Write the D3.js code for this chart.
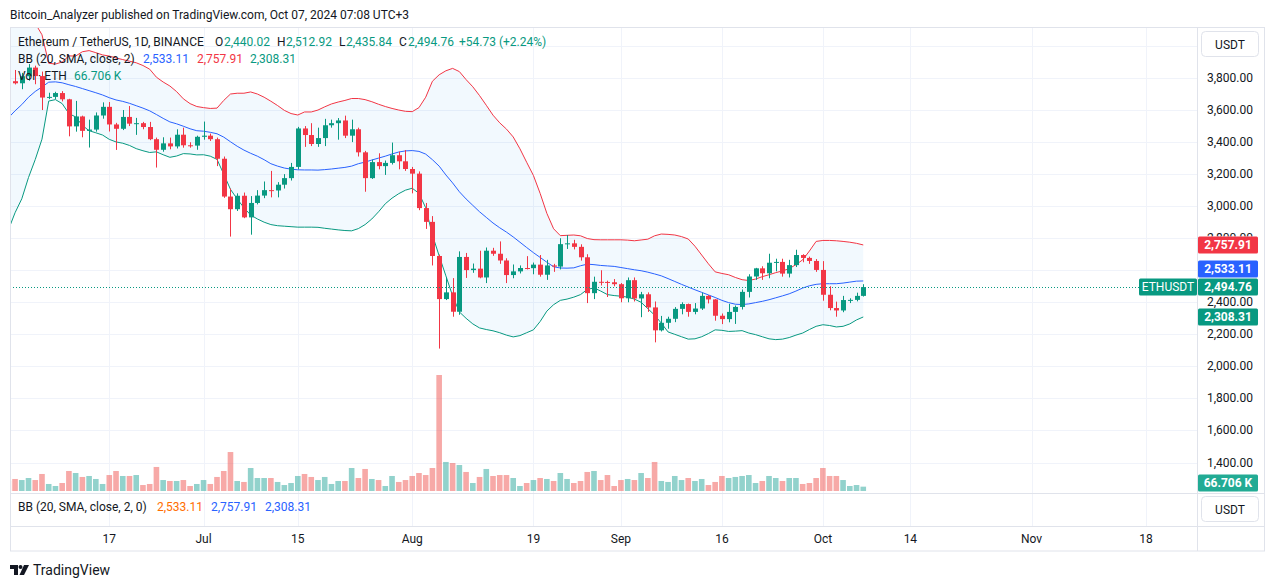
<!DOCTYPE html>
<html><head><meta charset="utf-8">
<script src="https://cdn.jsdelivr.net/npm/d3@7"></script>
<style>
body{margin:0;background:#fff;}
svg text{font-family:Roboto,"Liberation Sans",sans-serif;}
</style>
</head><body>
<svg id="c" width="1273" height="588"></svg>
<script>
// ---------------- DATA (daily, 2024-06-02 .. 2024-10-07) ----------------
const firstDay = "2024-06-02";
const opens = [3815,3780,3767,3811,3865,3812,3678,3682,3706,3667,3498,3560,3470,3478,3566,3620,3510,3483,3557,3515,3518,3494,3418,3352,3392,3373,3446,3380,3378,
3433,3440,3418,3296,3060,2981,3065,2930,3020,3066,3100,3098,3134,3175,3245,3485,3444,3388,3425,3505,3518,3535,3440,3480,3336,3175,3275,3250,3270,3318,3280,
3232,3203,2988,2902,2689,2420,2462,2341,2683,2601,2610,2555,2722,2703,2661,2570,2593,2614,2613,2635,2572,2630,2623,2763,2768,2746,2681,2457,2528,2527,2525,
2513,2425,2538,2424,2450,2368,2225,2272,2297,2359,2389,2340,2361,2440,2418,2316,2295,2340,2371,2465,2561,2612,2581,2647,2652,2579,2632,2695,2677,2658,
2602,2447,2364,2349,2414,2415,2440.02];
const highs = [3830,3850,3832,3887,3877,3840,3708,3714,3718,3670,3657,3565,3540,3585,3648,3650,3520,3600,3625,3551,3526,3526,3428,3430,3428,3480,3490,3399,3440,
3528,3453,3428,3310,3110,3080,3085,3063,3100,3154,3220,3150,3200,3270,3495,3500,3518,3490,3545,3540,3550,3565,3540,3490,3345,3290,3330,3285,3397,3340,3350,
3245,3217,3020,2938,2698,2555,2551,2718,2708,2642,2722,2742,2740,2780,2675,2636,2630,2688,2648,2695,2665,2640,2800,2820,2790,2762,2700,2560,2600,2535,2545,
2520,2555,2555,2465,2462,2405,2315,2310,2370,2400,2392,2395,2460,2445,2420,2330,2390,2380,2480,2575,2615,2625,2703,2672,2672,2665,2728,2700,2685,2670,
2657,2500,2404,2440,2425,2460,2512.92];
const lows = [3752,3760,3730,3783,3761,3600,3668,3668,3654,3436,3465,3430,3366,3465,3546,3466,3351,3475,3500,3445,3480,3412,3241,3340,3355,3360,3365,3365,3352,
3415,3407,3250,3052,2810,2970,2925,2822,3011,3050,3055,3055,3110,3160,3230,3370,3375,3370,3375,3490,3415,3425,3400,3310,3090,3170,3230,3195,3260,3230,3220,
3080,2975,2858,2630,2111,2414,2310,2322,2552,2584,2550,2520,2690,2640,2520,2550,2580,2605,2575,2560,2540,2590,2605,2733,2730,2660,2395,2420,2505,2433,2500,
2400,2400,2405,2307,2340,2150,2218,2235,2276,2325,2310,2325,2352,2393,2285,2264,2275,2265,2355,2430,2540,2540,2550,2593,2560,2555,2620,2650,2640,2590,
2410,2350,2310,2338,2395,2406,2435.84];
const closes = [3780,3767,3811,3865,3812,3678,3682,3706,3667,3498,3560,3470,3478,3566,3620,3510,3483,3557,3515,3518,3494,3418,3352,3392,3373,3446,3380,3378,3433,
3440,3418,3296,3060,2981,3065,2930,3020,3066,3100,3098,3134,3175,3245,3485,3444,3388,3425,3505,3518,3535,3440,3480,3336,3175,3275,3250,3270,3318,3280,3232,
3203,2988,2902,2689,2420,2462,2341,2683,2601,2610,2555,2722,2703,2661,2570,2593,2614,2613,2635,2572,2630,2623,2763,2768,2746,2681,2457,2528,2527,2525,2513,
2425,2538,2424,2450,2368,2225,2272,2297,2359,2389,2340,2361,2440,2418,2316,2295,2340,2371,2465,2561,2612,2581,2647,2652,2579,2632,2695,2677,2658,2602,
2447,2364,2349,2414,2415,2440.02,2494.76];
// volume, thousands of ETH
const volumes = [159,185,169,200,169,262,108,77,123,308,277,216,231,185,108,246,308,231,231,246,92,108,370,169,154,154,169,77,108,
169,108,216,308,600,154,139,354,200,200,200,139,92,123,231,262,216,169,216,108,154,154,354,200,339,185,169,77,231,139,169,
231,277,246,354,1786,447,431,400,293,123,216,339,231,246,246,200,77,123,169,200,185,154,277,185,123,154,293,308,169,246,77,
169,185,169,277,200,447,154,139,231,169,200,154,185,92,139,231,200,216,231,246,123,154,231,200,154,200,200,108,123,200,
354,231,231,169,77,92,66.706];
// Bollinger Bands (20, 2)
const bbBasis = [3551,3595,3634,3680,3716,3744,3774,3776,3770,3758,3747,3734,3721,3708,3694,3677,
3663,3654,3642,3627,3612,3595,3572,3548,3526,3514,3499,3483,3471,3468,3461,3452,3431,3402,3374,
3350,3330,3312,3290,3265,3250,3238,3231,3227,3226,3226,3225,3228,3232,3237,3242,3250,3265,3275,3288,
3300,3312,3326,3338,3345,3347,3342,3325,3290,3250,3195,3145,3090,3045,3005,2965,2930,2895,2865,2838,
2808,2775,2742,2710,2680,2650,2622,2614,2613,2615,2628,2638,2635,2630,2627,2624,2617,2610,2603,2597,
2588,2577,2565,2548,2530,2512,2495,2478,2462,2446,2430,2412,2398,2388,2386,2390,2398,2406,2416,2428,
2440,2453,2470,2489,2503,2512,2516,2516,2516,2520,2526,2532,2533.11];
const bbUpper = [4251,4231,4222,4181,4141,4070,3892,3887,3900,3938,3937,3964,3971,3958,3944,3937,
3925,3915,3905,3895,3878,3855,3805,3775,3750,3715,3670,3640,3622,3615,3610,3612,3660,3700,3705,
3705,3713,3700,3680,3655,3628,3598,3578,3569,3588,3588,3600,3620,3638,3650,3660,3672,3672,3665,3652,
3636,3622,3610,3600,3592,3590,3615,3680,3780,3820,3845,3860,3840,3790,3745,3690,3630,3568,3520,3481,
3432,3358,3274,3192,3080,2955,2859,2816,2818,2820,2815,2798,2791,2790,2790,2790,2790,2788,2784,2789,
2794,2815,2826,2824,2820,2810,2795,2750,2695,2640,2590,2580,2572,2555,2541,2536,2545,2560,2572,2585,
2596,2610,2635,2665,2720,2780,2786,2786,2784,2780,2775,2768,2757.91];
const bbLower = [2851,2959,3046,3179,3291,3418,3656,3665,3640,3578,3557,3504,3471,3458,3444,3417,
3401,3393,3379,3359,3346,3335,3339,3321,3305,3313,3328,3326,3320,3321,3312,3292,3200,3105,3045,
2990,2945,2920,2900,2885,2878,2875,2872,2869,2869,2869,2868,2862,2857,2852,2848,2846,2860,2885,2920,
2965,3015,3050,3078,3100,3112,3080,2990,2820,2690,2565,2440,2340,2300,2265,2240,2230,2222,2210,2195,
2184,2192,2210,2228,2280,2345,2385,2412,2420,2432,2448,2480,2490,2470,2448,2442,2438,2432,2420,2400,
2360,2320,2270,2215,2200,2185,2170,2172,2185,2205,2228,2225,2218,2220,2223,2208,2198,2185,2172,2167,
2170,2180,2195,2208,2230,2250,2260,2255,2246,2250,2265,2290,2308.31];
const priceTicks = [1400,1600,1800,2000,2200,2400,2600,2800,3000,3200,3400,3600,3800,4000];
const timeTicks = ["2024-06-17","2024-07-01","2024-07-15","2024-08-01","2024-08-19","2024-09-01","2024-09-16","2024-10-01","2024-10-14","2024-11-01","2024-11-18"];
const timeTickLabels = ["17","Jul","15","Aug","19","Sep","16","Oct","14","Nov","18"];

// ---------------- CHART ----------------
const UP="#089981", DN="#f23645", TXT="#131722", GRID="#f0f3fa", BORDER="#e0e3eb";
const svg = d3.select("#c");
const parse = d3.utcParse("%Y-%m-%d");
const d0 = parse(firstDay);
const data = closes.map((c,i)=>({date:d3.utcDay.offset(d0,i),o:opens[i],h:highs[i],l:lows[i],c:c,v:volumes[i],
  bm:bbBasis[i],bu:bbUpper[i],bl:bbLower[i]}));

const L=10, R=1197, T=28, MB=493, LB=526, AB=551;
const x = d3.scaleUtc().domain([parse("2024-06-03"),parse("2024-11-18")]).range([15.05,1146]);
const y = d3.scaleLinear().domain([1400,3800]).range([462.5,78]);
const yv = d3.scaleLinear().domain([0,d3.max(volumes)]).range([491,375]);

svg.append("rect").attr("width",1273).attr("height",588).attr("fill","#fff");
const defs = svg.append("defs");
defs.append("clipPath").attr("id","main").append("rect").attr("x",L).attr("y",T).attr("width",R-L).attr("height",MB-T);

// grid
const grid = svg.append("g");
grid.selectAll("line.h").data(priceTicks).join("line")
  .attr("x1",L).attr("x2",R).attr("y1",d=>Math.round(y(d))+0.5).attr("y2",d=>Math.round(y(d))+0.5)
  .attr("stroke",GRID).attr("clip-path","url(#main)");
grid.selectAll("line.v").data(timeTicks).join("line")
  .attr("x1",d=>Math.round(x(parse(d)))+0.5).attr("x2",d=>Math.round(x(parse(d)))+0.5)
  .attr("y1",T).attr("y2",LB).attr("stroke",GRID);

const plot = svg.append("g").attr("clip-path","url(#main)");
// BB
plot.append("path").datum(data).attr("fill","rgba(33,150,243,0.06)")
  .attr("d",d3.area().x(d=>x(d.date)).y0(d=>y(d.bl)).y1(d=>y(d.bu)));
const line = k => d3.line().x(d=>x(d.date)).y(d=>y(d[k]));
plot.append("path").datum(data).attr("fill","none").attr("stroke","#2962ff").attr("stroke-width",1).attr("d",line("bm"));
plot.append("path").datum(data).attr("fill","none").attr("stroke",DN).attr("stroke-width",1).attr("d",line("bu"));
plot.append("path").datum(data).attr("fill","none").attr("stroke",UP).attr("stroke-width",1).attr("d",line("bl"));

// volume
plot.selectAll("rect.vol").data(data).join("rect")
  .attr("x",d=>x(d.date)-2.8).attr("width",5.6)
  .attr("y",d=>yv(d.v)).attr("height",d=>yv(0)-yv(d.v))
  .attr("fill",d=>d.c>=d.o?"rgba(38,166,154,0.5)":"rgba(239,83,80,0.5)");

// candles
const cg = plot.append("g");
cg.selectAll("line").data(data).join("line")
  .attr("x1",d=>Math.round(x(d.date))+0.5).attr("x2",d=>Math.round(x(d.date))+0.5)
  .attr("y1",d=>y(d.h)).attr("y2",d=>y(d.l))
  .attr("stroke",d=>d.c>=d.o?UP:DN);
cg.selectAll("rect").data(data).join("rect")
  .attr("x",d=>Math.round(x(d.date))-2).attr("width",5)
  .attr("y",d=>y(Math.max(d.o,d.c))).attr("height",d=>Math.max(1,Math.abs(y(d.o)-y(d.c))))
  .attr("fill",d=>d.c>=d.o?UP:DN);

// last price dotted line
const last = data[data.length-1];
const yl = Math.round(y(last.c))+0.5;
svg.append("line").attr("x1",L).attr("x2",1139).attr("y1",yl).attr("y2",yl)
  .attr("stroke",UP).attr("stroke-dasharray","1,2");

// legend
const fmt = d3.format(",.2f");
function seg(g, yy, parts, fs){
  parts.forEach(p=>g.append("text").attr("x",p[0]).attr("y",yy).attr("font-size",fs||12).attr("fill",p[2]).text(p[1]));
}
const lg = svg.append("g");
seg(lg,46,[[18,"Ethereum / TetherUS, 1D, BINANCE",TXT],[215,"O",TXT],[224,fmt(last.o),UP],[277,"H",TXT],[286,fmt(last.h),UP],
  [339,"L",TXT],[346,fmt(last.l),UP],[399,"C",TXT],[408,fmt(last.c),UP],[459,"+54.73 (+2.24%)",UP]]);
seg(lg,63,[[18,"BB (20, SMA, close, 2)",TXT],[143,fmt(last.bm),"#2962ff"],[197,fmt(last.bu),DN],[250,fmt(last.bl),UP]]);
seg(lg,80,[[18,"Vol · ETH",TXT],[74,"66.706 K",UP]]);

// title
svg.append("text").attr("x",10).attr("y",19).attr("font-size",12).attr("fill",TXT)
  .text("Bitcoin_Analyzer published on TradingView.com, Oct 07, 2024 07:08 UTC+3");

// right axis
svg.append("rect").attr("x",R).attr("y",T).attr("width",1265-R).attr("height",AB-T).attr("fill","#fff");
const yc = y(last.c), ym = y(last.bm), yu = y(last.bu), ylo = y(last.bl);
const boxes = [
  {cy:yu, x:1198, w:60, col:DN, t:fmt(last.bu), b:true},
  {cy:Math.min(ym,yc-18), x:1198, w:60, col:"#2962ff", t:fmt(last.bm), b:true},
  {cy:yc, x:1198, w:60, col:UP, t:fmt(last.c), b:true},
  {cy:yc, x:1139, w:58, col:UP, t:"ETHUSDT", b:false},
  {cy:ylo, x:1198, w:60, col:UP, t:fmt(last.bl), b:true},
  {cy:483, x:1198, w:60, col:"#22ab94", t:d3.format(".3f")(last.v)+" K", b:true}
];
// tick labels: those completely hidden by a box are not drawn; partially hidden ones are clipped
const axBoxes = boxes.filter(b=>b.x>=1198);
priceTicks.filter(p=>p<=3800).forEach(p=>{
  const cy = y(p);
  const hit = axBoxes.find(b=>Math.abs(b.cy-cy)<12);
  if(hit && Math.abs(hit.cy-cy)<5) return;
  const t = svg.append("text").attr("x",1207).attr("y",cy+4).attr("font-size",12).attr("fill",TXT).text(fmt(p));
  if(hit){
    const id="clip"+p;
    const top = hit.cy<cy ? hit.cy+8.5 : cy-10;
    const bot = hit.cy<cy ? cy+10 : hit.cy-8.5;
    defs.append("clipPath").attr("id",id).append("rect").attr("x",1198).attr("y",top).attr("width",67).attr("height",bot-top);
    t.attr("clip-path",`url(#${id})`);
  }
});
boxes.forEach(b=>{
  svg.append("rect").attr("x",b.x).attr("y",b.cy-8.5).attr("width",b.w).attr("height",17).attr("rx",1.5).attr("fill",b.col);
  svg.append("text").attr("x",b.x+b.w/2).attr("y",b.cy+4.3).attr("text-anchor","middle").attr("font-size",12)
    .attr("font-weight",b.b?"bold":"normal").attr("fill","#fff").text(b.t);
});
// USDT buttons
function ubtn(yy){
  svg.append("rect").attr("x",1201.5).attr("y",yy).attr("width",57).attr("height",25).attr("rx",4)
    .attr("fill","#fff").attr("stroke",BORDER);
  svg.append("text").attr("x",1230).attr("y",yy+17).attr("text-anchor","middle").attr("font-size",12).attr("fill",TXT).text("USDT");
}
ubtn(31.5); ubtn(496.5);

// lower pane
svg.append("line").attr("x1",L).attr("x2",1265).attr("y1",MB+0.5).attr("y2",MB+0.5).attr("stroke",BORDER);
seg(svg.append("g"),511,[[18,"BB (20, SMA, close, 2, 0)",TXT],[157,fmt(last.bm),"#ff6d00"],[211,fmt(last.bu),"#2962ff"],[265,fmt(last.bl),"#2962ff"]]);

// time axis
svg.append("line").attr("x1",L).attr("x2",1265).attr("y1",LB+0.5).attr("y2",LB+0.5).attr("stroke",BORDER);
svg.selectAll("text.tt").data(timeTicks).join("text")
  .attr("x",d=>x(parse(d))).attr("y",543).attr("text-anchor","middle").attr("font-size",12).attr("fill",TXT)
  .text((d,i)=>timeTickLabels[i]);
svg.append("line").attr("x1",R+0.5).attr("x2",R+0.5).attr("y1",T).attr("y2",AB).attr("stroke",BORDER);
svg.append("rect").attr("x",L+0.5).attr("y",T-0.5).attr("width",1265-L-1).attr("height",AB-T+0.5)
  .attr("fill","none").attr("stroke",BORDER);

// footer logo
const lgo = svg.append("g").attr("fill",TXT);
lgo.append("path").attr("d","M10,565 H18 V575 H14 V569 H10 Z");
lgo.append("circle").attr("cx",20.5).attr("cy",567).attr("r",2);
lgo.append("path").attr("d","M24,565 H29 L24,575 H19.5 Z");
svg.append("text").attr("x",33).attr("y",575).attr("font-size",14).attr("fill",TXT).text("TradingView");
</script>
</body></html>
